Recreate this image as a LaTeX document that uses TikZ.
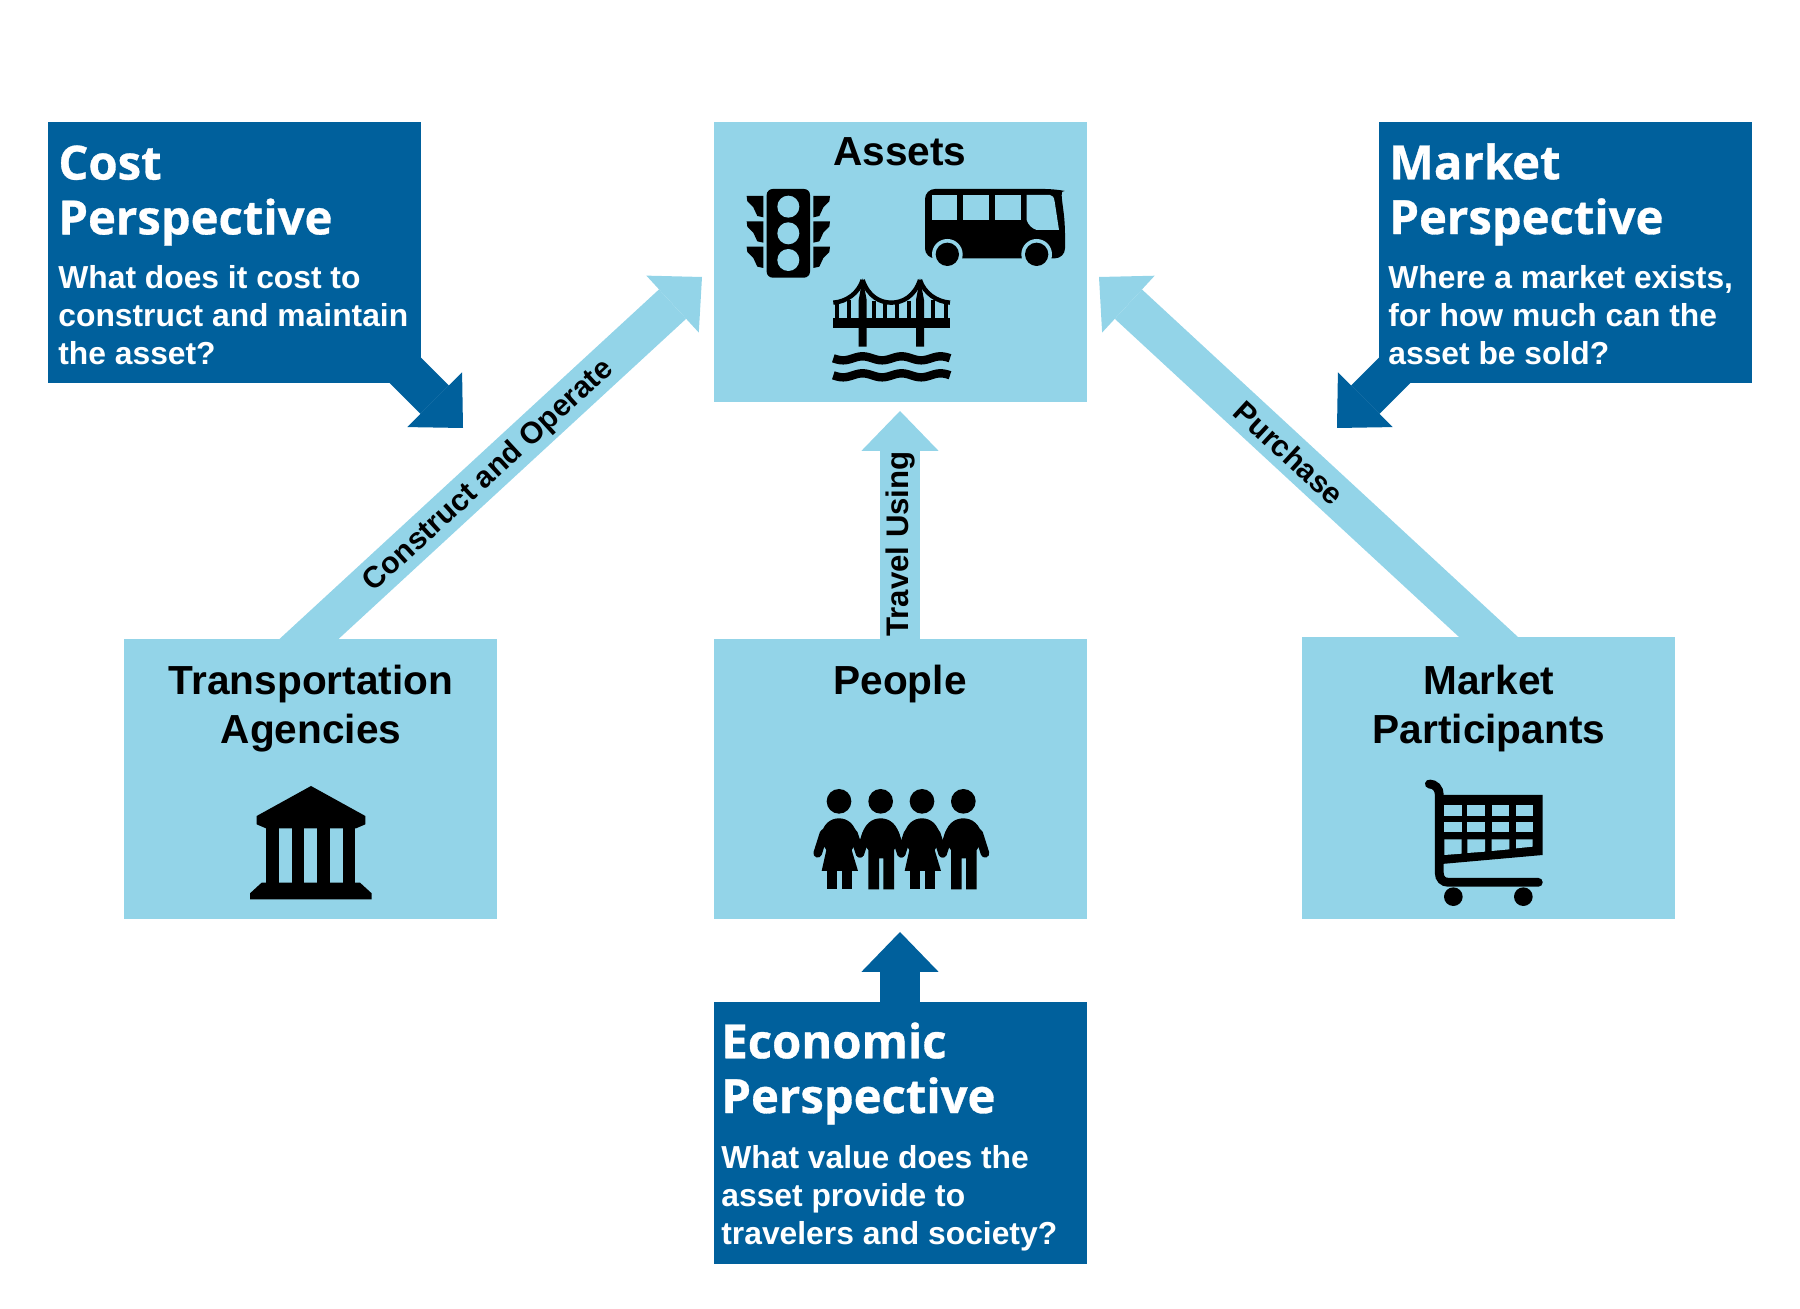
\documentclass[tikz,border=0pt]{standalone}
\usepackage{fontspec}
\setmainfont{Liberation Sans}
\newfontfamily\titlefont[BoldFeatures={FakeBold=0.7}]{Open Sans}
\usetikzlibrary{arrows.meta,backgrounds}
\definecolor{lightb}{HTML}{93D4E8}
\definecolor{darkb}{HTML}{00609C}
\tikzset{
  lbox/.style={fill=lightb,inner sep=0pt,outer sep=0pt,anchor=north west,minimum width=186.5pt,minimum height=140pt},
  dbox/.style={fill=darkb,inner sep=0pt,outer sep=0pt,anchor=north west,minimum width=186.5pt},
  boxtitle/.style={align=center,inner sep=0pt,anchor=north,font=\fontsize{20.3}{24.5}\selectfont\bfseries,text=black},
  pertitle/.style={align=left,inner sep=0pt,anchor=north west,font=\titlefont\fontsize{23.6}{27.4}\selectfont\bfseries,text=white},
  perbody/.style={align=left,inner sep=0pt,anchor=north west,font=\fontsize{15.9}{19}\selectfont\bfseries,text=white},
  larrow/.style={draw=lightb,line width=20pt,-{Triangle[length=20pt,width=38.7pt,line width=0pt]}},
  darrow/.style={draw=darkb,line width=20pt,-{Triangle[length=20pt,width=38.7pt,line width=0pt]}},
  arrowlabel/.style={inner sep=0pt,font=\fontsize{15.1}{18}\selectfont\bfseries,text=black},
  armstroke/.style={black,line width=4.3pt,line cap=round}
}
\begin{document}
\begin{tikzpicture}[x=0.5pt,y=-0.5pt]
\useasboundingbox (0,0) rectangle (1800,1309);
% boxes
\node[dbox,minimum height=130.5pt] (cost) at (48,122) {};
\node[lbox] (assets) at (713.5,122) {};
\node[dbox,minimum height=130.5pt] (market) at (1379,122) {};
\node[lbox] (agencies) at (124,639) {};
\node[lbox] (people) at (713.5,639) {};
\node[lbox,minimum height=141pt] (participants) at (1302,637) {};
\node[dbox,minimum height=131pt] (economic) at (713.5,1002) {};
% arrow ends
\coordinate (costfoot) at (400,365);
\coordinate (costtip) at (463,428);
\coordinate (markfoot) at (1400,365);
\coordinate (marktip) at (1337,428);
\coordinate (agtip) at (702,277);
\coordinate (partip) at (1099,277);
\begin{scope}[on background layer]
\draw[larrow,shorten <=-14pt] (agencies.north) ++(-1.5,0) -- (agtip);
\draw[larrow,shorten <=-14pt] (participants.north) -- (partip);
\draw[larrow,shorten >=4.5pt] (people.north) -- (assets.south);
\draw[darrow,shorten >=6.5pt] (economic.north) -- (people.south);
\draw[darrow] (costfoot) -- (costtip);
\draw[darrow] (markfoot) -- (marktip);
\end{scope}
% arrow labels
\node[arrowlabel,rotate=42.6] (lab1) at (489,476) {Construct and Operate};
\node[font=\fontsize{15.6}{18}\selectfont\bfseries,inner sep=0pt,rotate=90] (lab2) at (900,544) {Travel Using};
\node[arrowlabel,rotate=-42.6] (lab3) at (1289,453) {Purchase};
% box titles
\node[boxtitle] (t1) at (900,137.5) {Assets};
\node[boxtitle] (t2) at (311,664.5) {Transportation\\Agencies};
\node[boxtitle] (t3) at (900,664.5) {People};
\node[boxtitle] (t4) at (1489,664.5) {Market\\Participants};
% perspective text
\node[pertitle] (c1) at (58,145) {Cost\\Perspective};
\node[perbody] (c2) at (58,265) {What does it cost to\\construct and maintain\\the asset?};
\node[pertitle] (m1) at (1389,143) {Market\\Perspective};
\node[perbody] (m2) at (1388,265) {Where a market exists,\\for how much can the\\asset be sold?};
\node[pertitle] (e1) at (721,1022) {Economic\\Perspective};
\node[perbody] (e2) at (721,1145) {What value does the\\asset provide to\\travelers and society?};
% icon: traffic light
\begin{scope}[shift={(700,110)},scale=1/3]
\fill[black,rounded corners=3pt] (200,237) rectangle (330,503);
\foreach \yy in {290,370,450} \fill[lightb] (265,\yy) circle (33);
\foreach \dy in {0,76,152} {
  \fill[black] (140,258+\dy) -- (190,258+\dy) -- (190,322+\dy) -- (172,318+\dy) -- (160,292+\dy) -- (142,274+\dy) -- cycle;
  \fill[black] (390,258+\dy) -- (340,258+\dy) -- (340,322+\dy) -- (358,318+\dy) -- (370,292+\dy) -- (388,274+\dy) -- cycle;
}
% bus
\fill[black,rounded corners=5pt] (675,445) -- (675,237) -- (1065,237) .. controls (1080,240) and (1085,260) .. (1095,340) -- (1095,445) -- cycle;
\fill[lightb] (742,433) circle (46);
\fill[lightb] (1010,433) circle (46);
\fill[lightb] (680,448) rectangle (1100,480);
\fill[black] (742,433) circle (35);
\fill[black] (1010,433) circle (35);
\fill[lightb] (695,255) rectangle (771,331);
\fill[lightb] (790,255) rectangle (867,331);
\fill[lightb] (885,255) rectangle (962,331);
\fill[lightb] (980,255) -- (1050,255) .. controls (1058,255) and (1062,262) .. (1064,275) -- (1077,360) -- (1010,360) .. controls (995,355) and (985,345) .. (980,330) -- cycle;
% bridge
\fill[black] (400,625) rectangle (750,655);
\fill[black] (476,570) -- (488,505) -- (500,570) -- (500,710) -- (476,710) -- cycle;
\fill[black] (648,570) -- (660,505) -- (672,570) -- (672,710) -- (648,710) -- cycle;
\draw[black,line width=2.2pt] (400,578) .. controls (440,575) and (475,550) .. (488,510);
\draw[black,line width=2.2pt] (488,510) .. controls (505,560) and (540,578) .. (574,578) .. controls (608,578) and (643,560) .. (660,510);
\draw[black,line width=2.2pt] (660,510) .. controls (673,550) and (710,575) .. (750,578);
\foreach \hx/\hy in {412/575,447/570,522/572,556/578,592/578,626/572,700/570,737/575}
  \draw[black,line width=2pt] (\hx,\hy) -- (\hx,630);
\draw[black,line width=4.2pt] plot[domain=400:750,samples=70] (\x,{745+6*sin(3.0769*(\x-400))});
\draw[black,line width=4.2pt] plot[domain=400:750,samples=70] (\x,{796+6*sin(3.0769*(\x-400))});
\end{scope}
% icon: bank
\begin{scope}[shift={(230,760)},scale=1/3]
\fill[black] (80,168) -- (243,78) -- (406,168) -- (406,193) -- (378,205) -- (108,205) -- (80,193) -- cycle;
\foreach \cx in {109,185,261,338} \fill[black] (\cx,200) rectangle (\cx+38,372);
\fill[black] (60,400) -- (95,368) -- (390,368) -- (425,400) -- (425,418) -- (60,418) -- cycle;
\end{scope}
% icon: people
\begin{scope}[shift={(800,770)},scale=1/3]
\foreach \cx in {117,242,366,490} \fill[black] (\cx,94) circle (37);
\foreach \cx in {117,366} {
  \fill[black] (\cx-58,210) .. controls (\cx-50,160) and (\cx-25,145) .. (\cx,145) .. controls (\cx+25,145) and (\cx+50,160) .. (\cx+58,210) -- (\cx+38,240) -- (\cx+57,303) -- (\cx-52,303) -- (\cx-38,240) -- cycle;
  \fill[black] (\cx-37,300) rectangle (\cx-5,358);
  \fill[black] (\cx+8,300) rectangle (\cx+40,358);
}
\foreach \cx in {242,490} {
  \fill[black] (\cx-60,210) .. controls (\cx-52,160) and (\cx-25,145) .. (\cx,145) .. controls (\cx+25,145) and (\cx+52,160) .. (\cx+60,210) -- (\cx+40,240) -- (\cx+40,358) -- (\cx+8,358) -- (\cx+8,265) -- (\cx-5,265) -- (\cx-5,358) -- (\cx-37,358) -- (\cx-37,240) -- cycle;
}
\draw[armstroke] (72,190) -- (53,250);
\draw[armstroke] (160,190) -- (180,250);
\draw[armstroke] (200,190) -- (180,250);
\draw[armstroke] (284,190) -- (304,250);
\draw[armstroke] (324,190) -- (304,250);
\draw[armstroke] (408,190) -- (428,250);
\draw[armstroke] (448,190) -- (428,250);
\draw[armstroke] (536,190) -- (555,250);
\end{scope}
% icon: cart
\begin{scope}[shift={(1410,770)},scale=1/3]
\draw[black,line width=4.4pt,line cap=round] (58,42) .. controls (75,42) and (88,55) .. (88,75) -- (88,310) .. controls (88,325) and (98,337) .. (115,337) -- (385,337);
\fill[black] (95,75) -- (398,75) -- (398,255) -- (95,282) -- cycle;
\foreach \cxa/\cxb in {103/155,172/225,245/298,318/368} {
  \fill[lightb] (\cxa,105) rectangle (\cxb,137);
  \fill[lightb] (\cxa,157) rectangle (\cxb,187);
}
\fill[lightb] (103,208) -- (155,208) -- (155,251) -- (103,255) -- cycle;
\fill[lightb] (172,208) -- (225,208) -- (225,245) -- (172,249) -- cycle;
\fill[lightb] (245,208) -- (298,208) -- (298,238) -- (245,243) -- cycle;
\fill[lightb] (318,208) -- (368,208) -- (368,230) -- (318,235) -- cycle;
\fill[black] (130,380) circle (28);
\fill[black] (340,380) circle (28);
\end{scope}
\end{tikzpicture}
\end{document}
